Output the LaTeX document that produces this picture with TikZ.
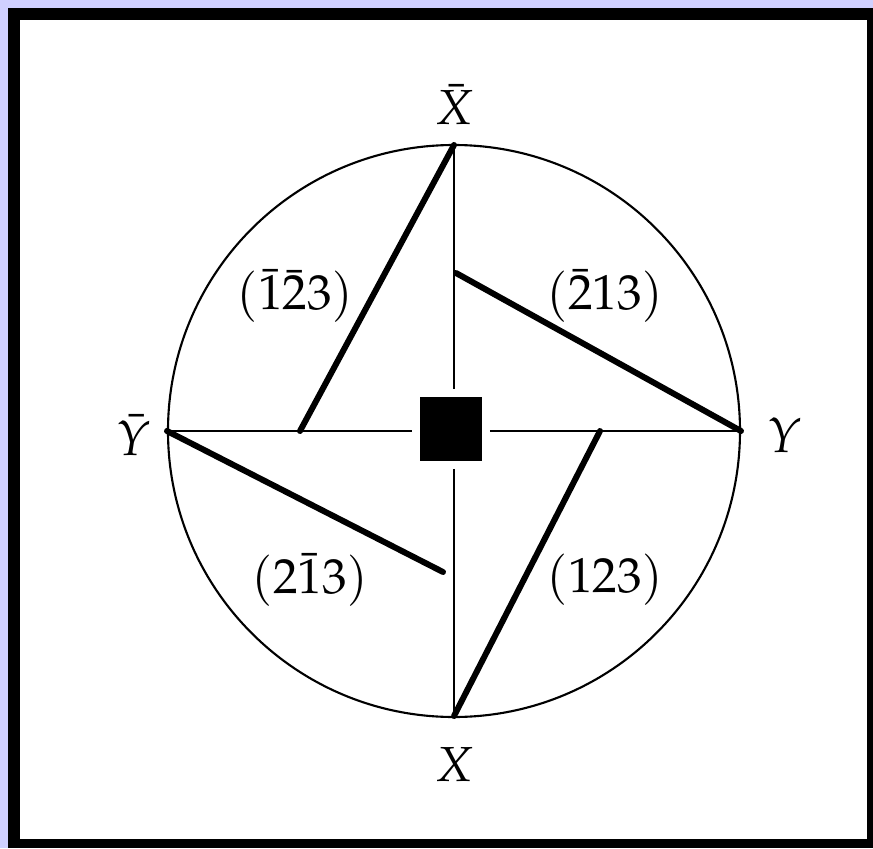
\documentclass[tikz,border=0pt]{standalone}
\usepackage{mathpazo}
\usepackage{tikz}
\usetikzlibrary{positioning,calc}
\definecolor{lavender}{RGB}{208,208,255}
\tikzset{
  thinline/.style  = {line width=0.6pt},
  planeline/.style = {line width=1.7pt, line cap=round},
  axislabel/.style = {font=\fontsize{14}{16}\selectfont},
  planelabel/.style= {font=\fontsize{14}{16}\selectfont},
  pole/.style      = {fill=black, minimum width=0.62cm, minimum height=0.64cm, inner sep=0pt},
}
\begin{document}
\begin{tikzpicture}[x=0.01cm,y=0.01cm]
% frame
\fill[lavender] (-454,431) rectangle (419,-417);
\fill[black] (-446,423) rectangle (419,-417);
\fill[white] (-434,411) rectangle (413,-408);
\useasboundingbox (-454,431) rectangle (419,-417);
% circle and points on it
\draw[thinline] (0,0) circle (286);
\coordinate (Xb) at (0,286);
\coordinate (X)  at (0,-285);
\coordinate (Y)  at (287,0);
\coordinate (Yb) at (-287,0);
\node[pole] (c) at (-3,2) {};
\draw[thinline] (Yb) -- ([xshift=-2pt]c.west |- Yb);
\draw[thinline] ([xshift=2pt]c.east |- Y) -- (Y);
\draw[thinline] (Xb) -- ([yshift=2pt]c.north -| Xb);
\draw[thinline] ([yshift=-2pt]c.south -| X) -- (X);
% inner ends of the thick lines
\coordinate (a) at (-154,0);
\coordinate (b) at (2,158);
\coordinate (d) at (-11,-141);
\coordinate (e) at (146,0);
\draw[planeline] (Xb) -- (a);
\draw[planeline] (b) -- (Y);
\draw[planeline] (Yb) -- (d);
\draw[planeline] (e) -- (X);
% labels
\node[axislabel] (lXb) at (0,326) {$\bar{X}$};
\node[axislabel] (lX)  at (0,-334) {$X$};
\node[axislabel] (lY)  at (331,-4) {$Y$};
\node[axislabel] (lYb) at (-320,-4) {$\bar{Y}$};
\node[planelabel] (p1) at (-159,135) {$(\bar{1}\bar{2}3)$};
\node[planelabel] (p2) at (151,135) {$(\bar{2}13)$};
\node[planelabel] (p3) at (-144,-149) {$(2\bar{1}3)$};
\node[planelabel] (p4) at (151,-149) {$(123)$};
\end{tikzpicture}
\end{document}
